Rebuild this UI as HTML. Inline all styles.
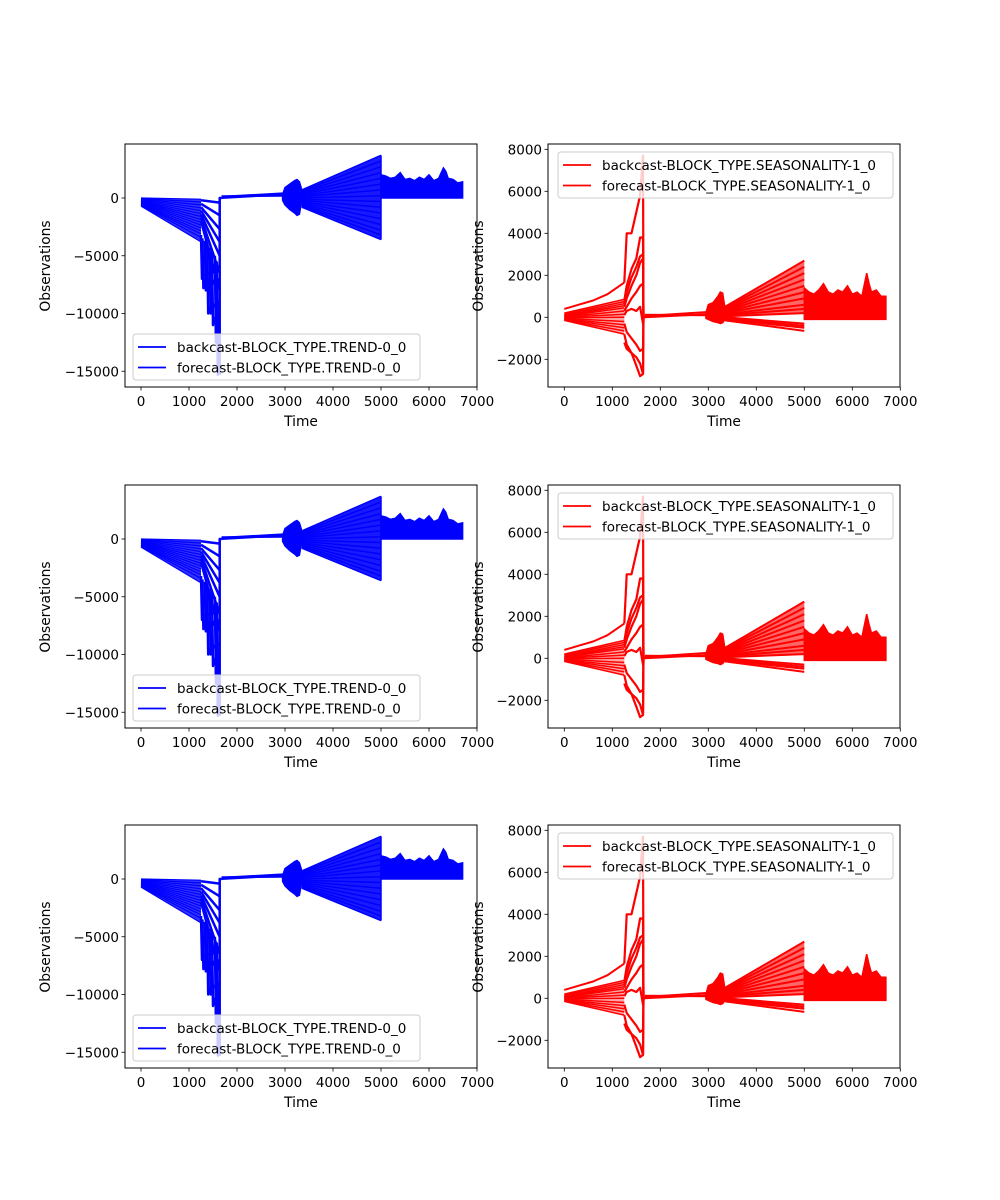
<!DOCTYPE html>
<html><head><meta charset="utf-8"><style>
html,body{margin:0;padding:0;background:#fff}
svg{display:block;font-family:"DejaVu Sans","Liberation Sans",sans-serif}
</style></head><body>
<svg id="fig" width="1000" height="1200" viewBox="0 0 1000 1200" xmlns="http://www.w3.org/2000/svg">
<rect width="1000" height="1200" fill="#fff"/>
</svg>
<script>
const xTicks = [0,1000,2000,3000,4000,5000,6000,7000];
// ---------- TREND data ----------
const trendYTicks = [0,-5000,-10000,-15000];
const trendFanT = [0,1250];
const trendFanStart = [0,-50,-100,-150,-200,-250,-300,-350,-400,-450,-500,-550,-600,-650,-700];
const trendFanEnd = [-100,-350,-600,-850,-1100,-1350,-1600,-1850,-2100,-2350,-2600,-2850,-3100,-3400,-3800];
const trendCurveEnd = [-400,-1500,-2700,-3800,-5000,-6500,-8000];
const trendDropT = [1270,1300,1350,1400,1450,1500,1560,1600];
const trendDropTopV = [-3200,-3500,-3700,-4000,-4300,-4600,-5000,-5500];
const trendDropDepth = [-7000,-7800,-8000,-10000,-10000,-11000,-12500,-15300];
const trendFlatT = [1680,2950];
const trendFlatStart = [0,100,150];
const trendFlatEnd = [300,400,200];
const trendOscT = [2950,3000,3100,3200,3250,3300,3350];
const trendOscTop = [300,900,1200,1500,1600,1400,700];
const trendOscBot = [-200,-600,-1000,-1300,-1500,-1400,-200];
const trendFan2T = [3350,5000];
const trendFan2Start = [700,600,500,400,300,200,100,0,-100,-200,-300,-400,-500,-600,-700,-800];
const trendFan2End = [3700,3200,2700,2200,1700,1200,700,200,-300,-800,-1300,-1800,-2300,-2800,-3200,-3600];
const trendBandT = [5000,5100,5200,5300,5400,5500,5600,5700,5800,5900,6000,6100,6200,6300,6350,6400,6500,6600,6700];
const trendBandTop = [2000,1900,1700,1800,2200,1600,1700,1500,1800,1600,2000,1500,1700,2600,2300,1700,1600,1300,1400];
const trendBandBot = [0,0,0,0,0,0,0,0,0,0,0,0,0,0,0,0,0,0,0];
// ---------- SEASONALITY data ----------
const seasYTicks = [-2000,0,2000,4000,6000,8000];
const seasFanT = [0,300,600,900,1250];
const seasFanTop = [400,600,800,1100,1650];
const seasFanStart = [200,150,100,80,50,20,0,-20,-50,-80,-100,-130,-150];
const seasFanEnd = [850,750,650,550,450,300,150,0,-200,-350,-500,-650,-800];
const seasSpikeT = [1250,1300,1400,1500,1580,1640];
const seasSpikeA = [1650,4000,4000,5000,5800,7700];
const seasSpikeB = [800,1500,2300,2800,3800,3800];
const seasSpikeC = [600,1200,1900,2400,2900,3000];
const seasSpikeD = [300,500,900,1200,1500,1600];
const seasSpikeI = [500,900,1500,2000,2600,2800];
const seasSpikeE = [-1200,-1500,-1700,-1900,-2200,-2700];
const seasSpikeF = [-800,-1300,-1700,-2300,-2800,-2700];
const seasSpikeG = [-300,-700,-1000,-1300,-1600,-1500];
const seasSpikeH = [100,300,400,300,500,-300];
const seasFlatT = [1680,2950];
const seasFlatStart = [0,60,120];
const seasFlatEnd = [150,250,100];
const seasOscT = [2950,3000,3100,3200,3250,3300,3350];
const seasOscTop = [200,600,700,1000,1200,1150,400];
const seasOscBot = [-50,-100,-200,-250,-300,-250,-100];
const seasFan2T = [3350,5000];
const seasFan2Start = [500,450,400,350,300,250,200,150,100,50,0,-50,-100,-150];
const seasFan2End = [2700,2400,2100,1800,1500,1200,900,600,400,200,-300,-400,-500,-650];
const seasBandT = [5000,5100,5200,5300,5400,5500,5600,5700,5800,5900,6000,6100,6200,6300,6350,6400,6500,6600,6700];
const seasBandTop = [1400,1200,1100,1300,1600,1200,1100,1300,1200,1500,1100,1200,1000,2100,1600,1200,1300,1000,1000];
const seasBandBot = [-100,-100,-100,-100,-100,-100,-100,-100,-100,-100,-100,-100,-100,-100,-100,-100,-100,-100,-100];

const NS = "http://www.w3.org/2000/svg";
const svg = document.getElementById('fig');
function mk(tag, attrs, parent){const e=document.createElementNS(NS,tag);for(const k in attrs)e.setAttribute(k,attrs[k]);(parent||svg).appendChild(e);return e;}
function makeAxes(left, top, xs, ys){ return {xs, ys, left, top, w:352, h:243}; }

function line(g, ts, vs, ax, color, w){
  const d = ts.map((t,i)=>(i?'L':'M')+ax.xs(t).toFixed(1)+','+ax.ys(vs[i]).toFixed(1)).join(' ');
  const p = mk('path',{d, fill:'none', stroke:color, 'stroke-width':w||1.5, 'stroke-linejoin':'round'}, g);
  
  
  return p;
}
function band(g, ts, top, bot, ax, color){
  let d = ts.map((t,i)=>(i?'L':'M')+ax.xs(t).toFixed(1)+','+ax.ys(top[i]).toFixed(1)).join(' ');
  for(let i=ts.length-1;i>=0;i--) d += ' L'+ax.xs(ts[i]).toFixed(1)+','+ax.ys(bot[i]).toFixed(1);
  const p = mk('path',{d:d+' Z', fill:color, stroke:color, 'stroke-width':1.5}, g);
  
  
}
function tri(g, t0, t1, s0a, s0b, e1a, e1b, ax, color, op){
  const d = 'M'+ax.xs(t0)+','+ax.ys(s0a)+' L'+ax.xs(t1)+','+ax.ys(e1a)+' L'+ax.xs(t1)+','+ax.ys(e1b)+' L'+ax.xs(t0)+','+ax.ys(s0b)+' Z';
  const p = mk('path',{d, fill:color, 'fill-opacity':op}, g);
  
  
}

function frameAndTicks(g, ax, yTicks){
  const fr = mk('rect',{x:ax.left, y:ax.top, width:ax.w, height:ax.h, fill:'none', stroke:'#000', 'stroke-width':1}, g);
  
  
  xTicks.forEach(t=>{
    const x = ax.xs(t);
    mk('line',{x1:x,x2:x,y1:ax.top+ax.h,y2:ax.top+ax.h+3.5,stroke:'#000','stroke-width':0.8},g);
    const tx = mk('text',{x:x,y:ax.top+ax.h+19,'font-size':'13.5','text-anchor':'middle',fill:'#000'},g);
    tx.textContent = String(t);
    
    
  });
  yTicks.forEach(v=>{
    const y = ax.ys(v);
    mk('line',{x1:ax.left-3.5,x2:ax.left,y1:y,y2:y,stroke:'#000','stroke-width':0.8},g);
    const tx = mk('text',{x:ax.left-6,y:y+5,'font-size':'13.5','text-anchor':'end',fill:'#000'},g);
    tx.textContent = v<0 ? '\u2212'+Math.abs(v) : String(v);
    
    
  });
  const xl = mk('text',{x:ax.left+ax.w/2,y:ax.top+ax.h+39,'font-size':'13.8','text-anchor':'middle',fill:'#000'},g);
  xl.textContent='Time';
  
  
}
function ytitle(g, x, y){
  const t = mk('text',{x:x,y:y,'font-size':'13.8','text-anchor':'middle',fill:'#000',transform:'rotate(-90 '+x+' '+y+')'},g);
  t.textContent='Observations';
  
  
}
function legend(g, x, y, w, labels, color){
  const box = mk('rect',{x:x,y:y,width:w,height:46,rx:3,fill:'#fff','fill-opacity':0.8,stroke:'#ccc','stroke-width':1},g);
  
  
  labels.forEach((lab,i)=>{
    const yy = y+13+i*20.5;
    const l = mk('line',{x1:x+5,x2:x+33,y1:yy,y2:yy,stroke:color,'stroke-width':1.8},g);
    
    
    const t = mk('text',{x:x+44,y:yy+5,'font-size':'13.5',fill:'#000'},g);
    t.textContent = lab;
    
    
  });
}

function trendPanel(dy){
  const g = mk('g',{});
  
  
  const ax = makeAxes(125, 144+dy, t=>141+t*0.048, v=>198+dy-v*0.01155);
  const C='#0000ff';
  tri(g, trendFanT[0], trendFanT[1], trendFanStart[0], trendFanStart[trendFanStart.length-1], trendFanEnd[0], trendFanEnd[trendFanEnd.length-1], ax, C, 0.8);
  trendFanStart.forEach((s,i)=>line(g, trendFanT, [s, trendFanEnd[i]], ax, C, 1.2));
  trendCurveEnd.forEach((e,i)=>line(g, [1250,1640], [-200-i*300, e], ax, C, 2.5));
  trendDropDepth.forEach((dp,i)=>{
    const t0 = trendDropT[i];
    line(g, [t0-20, t0, t0+25, 1640], [trendDropTopV[i], dp, dp*0.95, dp*0.9], ax, C, 2.5);
  });
  line(g, [1640,1640,1680], [-15300,0,0], ax, C, 2.5);
  trendFlatStart.forEach((s,i)=>line(g, trendFlatT, [s, trendFlatEnd[i]], ax, C, 2));
  band(g, trendOscT, trendOscTop, trendOscBot, ax, C);
  tri(g, trendFan2T[0], trendFan2T[1], trendFan2Start[0], trendFan2Start[trendFan2Start.length-1], trendFan2End[0], trendFan2End[trendFan2End.length-1], ax, C, 0.9);
  trendFan2Start.forEach((s,i)=>line(g, trendFan2T, [s, trendFan2End[i]], ax, C, 1.5));
  line(g,[5000,5000],[trendFan2End[0],trendFan2End[trendFan2End.length-1]],ax,C,1.5);
  band(g, trendBandT, trendBandTop, trendBandBot, ax, C);
  frameAndTicks(g, ax, trendYTicks);
  ytitle(g, 50, 266+dy);
  legend(g, 133, 334+dy, 287, ['backcast-BLOCK_TYPE.TREND-0_0','forecast-BLOCK_TYPE.TREND-0_0'], C);
}
function seasPanel(dy){
  const g = mk('g',{});
  
  
  const ax = makeAxes(548, 144+dy, t=>564.3+t*0.048, v=>317.3+dy-v*0.021);
  const C='#ff0000';
  line(g, seasFanT, seasFanTop, ax, C, 2);
  tri(g, 0, 1250, seasFanStart[0], seasFanStart[seasFanStart.length-1], seasFanEnd[0], seasFanEnd[seasFanEnd.length-1], ax, C, 0.35);
  seasFanStart.forEach((s,i)=>line(g, [0,1250], [s, seasFanEnd[i]], ax, C, 1.5));
  [seasSpikeA,seasSpikeB,seasSpikeC,seasSpikeD,seasSpikeI,seasSpikeE,seasSpikeF,seasSpikeG,seasSpikeH].forEach(arr=>{
    line(g, seasSpikeT.concat([1650,1680]), arr.concat([0,0]), ax, C, 2.2);
  });
  seasFlatStart.forEach((s,i)=>line(g, seasFlatT, [s, seasFlatEnd[i]], ax, C, 2));
  band(g, seasOscT, seasOscTop, seasOscBot, ax, C);
  tri(g, seasFan2T[0], seasFan2T[1], seasFan2Start[0], seasFan2Start[9], seasFan2End[0], seasFan2End[9], ax, C, 0.6);
  seasFan2Start.forEach((s,i)=>line(g, seasFan2T, [s, seasFan2End[i]], ax, C, 2));
  band(g, seasBandT, seasBandTop, seasBandBot, ax, C);
  frameAndTicks(g, ax, seasYTicks);
  ytitle(g, 483, 266+dy);
  legend(g, 558, 152+dy, 335, ['backcast-BLOCK_TYPE.SEASONALITY-1_0','forecast-BLOCK_TYPE.SEASONALITY-1_0'], C);
}
[0,341,681].forEach(dy=>{trendPanel(dy);seasPanel(dy);});
</script>
</body></html>
